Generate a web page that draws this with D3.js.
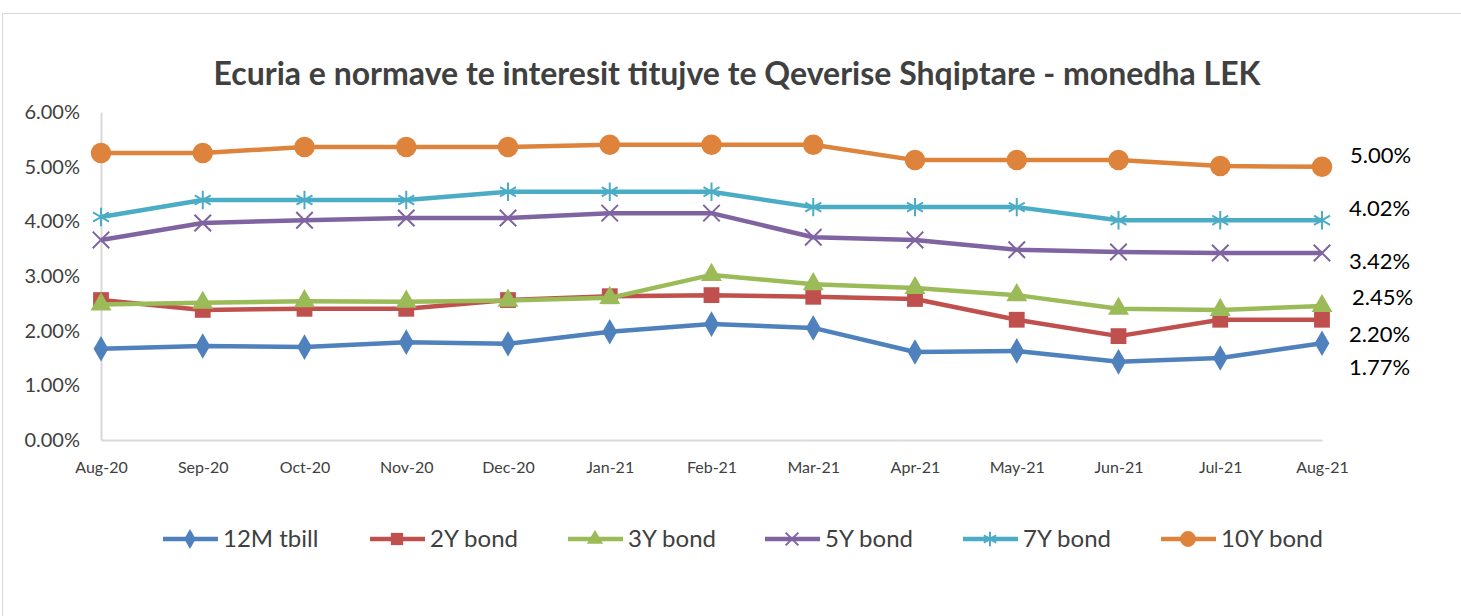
<!DOCTYPE html>
<html>
<head>
<meta charset="utf-8">
<script src="https://cdn.jsdelivr.net/npm/d3@7"></script>
<style>
  body { margin: 0; background: #fff; }
  text { font-family: Lato, "Open Sans", sans-serif; }
</style>
</head>
<body>
<div id="chart"></div>
<script>
// data (values in %)
var months = ["Aug-20", "Sep-20", "Oct-20", "Nov-20", "Dec-20", "Jan-21", "Feb-21",
              "Mar-21", "Apr-21", "May-21", "Jun-21", "Jul-21", "Aug-21"];
var tbill12M = [1.67, 1.72, 1.70, 1.79, 1.76, 1.98, 2.12, 2.05, 1.61, 1.63, 1.43, 1.50, 1.77];
var bond2Y   = [2.56, 2.38, 2.40, 2.40, 2.56, 2.63, 2.65, 2.62, 2.58, 2.20, 1.90, 2.20, 2.20];
var bond3Y   = [2.48, 2.51, 2.54, 2.53, 2.55, 2.60, 3.02, 2.85, 2.78, 2.65, 2.40, 2.38, 2.45];
var bond5Y   = [3.66, 3.97, 4.02, 4.06, 4.06, 4.15, 4.15, 3.71, 3.66, 3.48, 3.44, 3.42, 3.42];
var bond7Y   = [4.08, 4.39, 4.39, 4.39, 4.54, 4.54, 4.54, 4.26, 4.26, 4.26, 4.02, 4.02, 4.02];
var bond10Y  = [5.25, 5.25, 5.36, 5.36, 5.36, 5.40, 5.40, 5.40, 5.12, 5.12, 5.12, 5.01, 5.00];
var yTicks = [0, 1, 2, 3, 4, 5, 6];

var series = [
  {name: "12M tbill", values: tbill12M, color: "#4F81BD", marker: "diamond", dy: 32, dx: 0},
  {name: "2Y bond",   values: bond2Y,   color: "#C0504D", marker: "square",  dy: 22, dx: 0},
  {name: "3Y bond",   values: bond3Y,   color: "#9BBB59", marker: "triangle", dy: -1, dx: 3},
  {name: "5Y bond",   values: bond5Y,   color: "#8064A2", marker: "x",       dy: 16, dx: 0},
  {name: "7Y bond",   values: bond7Y,   color: "#4BACC6", marker: "star",    dy: -4, dx: 0},
  {name: "10Y bond",  values: bond10Y,  color: "#DE833B", marker: "circle",  dy: -4, dx: 1}
];

var W = 1461, H = 616;
var margin = {top: 112, left: 101, right: 139, bottom: 176};
var width = W - margin.left - margin.right,
    height = H - margin.top - margin.bottom;

var svg = d3.select("#chart").append("svg")
  .attr("width", W).attr("height", H);

// outer chart border
svg.append("rect")
  .attr("x", 2.5).attr("y", 13.5)
  .attr("width", W + 10).attr("height", H + 10)
  .attr("fill", "none").attr("stroke", "#D9D9D9").attr("stroke-width", 1);

svg.append("text")
  .attr("x", 737).attr("y", 85)
  .attr("text-anchor", "middle")
  .style("font-size", "32px").style("font-weight", "bold")
  .attr("fill", "#404040")
  .text("Ecuria e normave te interesit titujve te Qeverise Shqiptare - monedha LEK");

var g = svg.append("g")
  .attr("transform", "translate(" + margin.left + "," + margin.top + ")");

var x = d3.scalePoint().domain(months).range([0, width]);
var y = d3.scaleLinear().domain([0, 6]).range([height, 0]);

// y axis
var yAxis = g.append("g")
  .call(d3.axisLeft(y).tickValues(yTicks).tickSize(0).tickPadding(21)
    .tickFormat(function(d) { return d.toFixed(2) + "%"; }));
yAxis.select(".domain").attr("stroke", "#D9D9D9").attr("stroke-width", 2);
yAxis.selectAll("text").attr("fill", "#404040").style("font-size", "20px");

// x axis
var xAxis = g.append("g")
  .attr("transform", "translate(0," + height + ")")
  .call(d3.axisBottom(x).tickSize(0).tickPadding(22));
xAxis.select(".domain").attr("stroke", "#D9D9D9").attr("stroke-width", 2);
xAxis.selectAll("text").attr("fill", "#404040").style("font-size", "16px");

var symbolTypes = {
  diamond: [d3.symbolDiamond, 190],
  square: [d3.symbolSquare, 250],
  triangle: [d3.symbolTriangle, 190],
  circle: [d3.symbolCircle, 330],
  x: [d3.symbolX, 180],
  star: [d3.symbolAsterisk, 240]
};
function drawMarker(sel, s, scale) {
  var stroked = (s.marker === "x" || s.marker === "star");
  var t = symbolTypes[s.marker];
  sel.append("path")
    .attr("d", d3.symbol().type(t[0]).size(t[1] * scale)())
    .attr("fill", stroked ? "none" : s.color)
    .attr("stroke", s.color)
    .attr("stroke-width", stroked ? 2 : 0);
}

var line = d3.line()
  .x(function(d, i) { return x(months[i]); })
  .y(function(d) { return y(d); });

series.forEach(function(s) {
  g.append("path")
    .datum(s.values)
    .attr("d", line)
    .attr("fill", "none")
    .attr("stroke", s.color)
    .attr("stroke-width", 4.5)
    .attr("stroke-linejoin", "round");

  s.values.forEach(function(v, i) {
    var m = g.append("g")
      .attr("transform", "translate(" + x(months[i]) + "," + y(v) + ")");
    drawMarker(m, s, 1);
  });

  // last value label
  var last = s.values[s.values.length - 1];
  g.append("text")
    .attr("x", width + 27 + s.dx)
    .attr("y", y(last) + s.dy)
    .attr("fill", "#000")
    .style("font-size", "22px")
    .text(last.toFixed(2) + "%");
});

// legend
var legendX = [163, 370, 568, 765, 963, 1161];
var legend = svg.append("g").attr("transform", "translate(0,539)");
series.forEach(function(s, i) {
  var lg = legend.append("g").attr("transform", "translate(" + legendX[i] + ",0)");
  lg.append("line").attr("x1", 0).attr("x2", 55)
    .attr("stroke", s.color).attr("stroke-width", 4.5);
  drawMarker(lg.append("g").attr("transform", "translate(27,0)"), s, 0.6);
  lg.append("text")
    .attr("x", 60).attr("dy", "0.35em")
    .attr("fill", "#404040")
    .style("font-size", "24px")
    .text(s.name);
});
</script>
</body>
</html>
